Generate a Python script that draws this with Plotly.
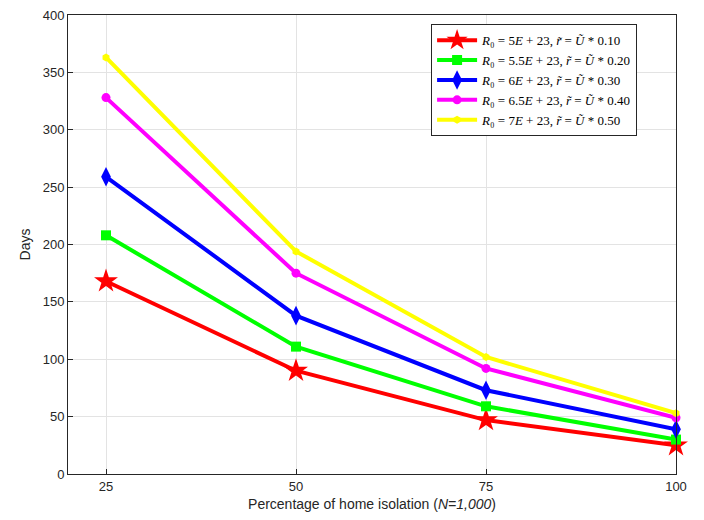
import plotly.graph_objects as go

x_vals = [25, 50, 75, 100]
red_vals = [168, 90, 47, 25]
green_vals = [208, 111, 59, 30]
blue_vals = [259, 138, 73, 39]
magenta_vals = [328, 175, 92, 49]
yellow_vals = [363, 194, 102, 53]

labels = [
    "<i>R</i>₀ = 5<i>E</i> + 23, <i>r̃</i> = <i>Ũ</i> * 0.10",
    "<i>R</i>₀ = 5.5<i>E</i> + 23, <i>r̃</i> = <i>Ũ</i> * 0.20",
    "<i>R</i>₀ = 6<i>E</i> + 23, <i>r̃</i> = <i>Ũ</i> * 0.30",
    "<i>R</i>₀ = 6.5<i>E</i> + 23, <i>r̃</i> = <i>Ũ</i> * 0.40",
    "<i>R</i>₀ = 7<i>E</i> + 23, <i>r̃</i> = <i>Ũ</i> * 0.50",
]
series = [red_vals, green_vals, blue_vals, magenta_vals, yellow_vals]
colors = ["#ff0000", "#00ff00", "#0000ff", "#ff00ff", "#ffff00"]
symbols = ["star", "square", "diamond-tall", "circle", "hexagon"]
sizes = [18, 10, 14, 9, 8]

fig = go.Figure()
for vals, lab, c, s, sz in zip(series, labels, colors, symbols, sizes):
    fig.add_trace(go.Scatter(
        x=x_vals, y=vals, name=lab, mode="lines+markers", cliponaxis=False,
        line=dict(color=c, width=4),
        marker=dict(symbol=s, size=sz, color=c, line=dict(width=0)),
    ))

axis_common = dict(
    showline=True, linecolor="#262626", linewidth=1, mirror=True,
    ticks="inside", ticklen=5, tickcolor="#262626", ticklabeloverflow="allow",
    showgrid=True, gridcolor="#e3e3e3", gridwidth=1, automargin=False,
    zeroline=False, tickfont=dict(family="Liberation Sans, Arial", size=13, color="#262626"),
)

fig.update_layout(
    template="none",
    width=688, height=504,
    margin=dict(l=60, r=20, t=7, b=38),
    paper_bgcolor="white", plot_bgcolor="white",
    xaxis=dict(range=[20, 100], tickvals=[25, 50, 75, 100],
               title=dict(text="Percentage of home isolation (<i>N=1,000</i>)",
                          font=dict(family="Liberation Sans, Arial", size=14, color="#262626"),
                          standoff=8),
               **axis_common),
    yaxis=dict(range=[0, 400], tickvals=list(range(0, 401, 50)),
               title=dict(text="Days", font=dict(family="Liberation Sans, Arial", size=14, color="#262626"),
                          standoff=8),
               **axis_common),
    legend=dict(x=0.936, y=0.98, xanchor="right", yanchor="top",
                bgcolor="white", bordercolor="#262626", borderwidth=1,
                font=dict(family="Liberation Serif, Times New Roman", size=13, color="black"),
                tracegroupgap=0, itemwidth=40),
    showlegend=True,
)

fig.write_html("out.html")
